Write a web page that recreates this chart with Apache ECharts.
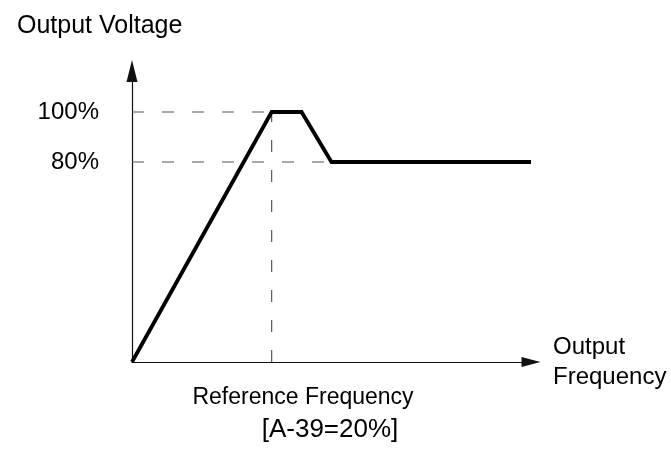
<!DOCTYPE html>
<html>
<head>
<meta charset="utf-8">
<script src="https://cdn.jsdelivr.net/npm/echarts@6/dist/echarts.min.js"></script>
<style>
  html, body { margin: 0; padding: 0; background: #fff; }
  #chart { width: 671px; height: 461px; }
</style>
</head>
<body>
<div id="chart"></div>
<script>
// V/f curve: output voltage (%) against output frequency (relative units)
const freq = [0, 14, 17, 20, 40];
const volt = [0, 100, 100, 80, 80];
const voltTicks = [80, 100];
const refFreq = freq[1];      // reference frequency (start of 100% plateau)
const dropEnd = freq[3];      // end of the drop to 80%

const curve = freq.map((f, i) => [f, volt[i]]);

// dashed guide lines
const guideStyle = { color: '#555', width: 1.2, type: [12, 18] };
const guides = [
  [[0, voltTicks[1]], [refFreq, voltTicks[1]]],
  [[0, voltTicks[0]], [dropEnd, voltTicks[0]]],
  [[refFreq, 0], [refFreq, voltTicks[1]]]
];

const FONT = '"Liberation Sans", Arial, sans-serif';

const chart = echarts.init(document.getElementById('chart'), null, { renderer: 'canvas' });
chart.setOption({
  animation: false,
  backgroundColor: '#fff',
  title: [
    { text: 'Output Voltage', left: 12, top: 9,
      textStyle: { fontFamily: FONT, fontSize: 25, fontWeight: 'normal', color: '#000' } },
    { text: 'Reference Frequency', left: 298, top: 381, textAlign: 'center',
      textStyle: { fontFamily: FONT, fontSize: 23, fontWeight: 'normal', color: '#000' } },
    { text: '[A-39=20%]', left: 325, top: 412, textAlign: 'center',
      textStyle: { fontFamily: FONT, fontSize: 26, fontWeight: 'normal', color: '#000' } }
  ],
  grid: { left: 132, right: 140, top: 71, bottom: 99 },
  xAxis: {
    type: 'value', min: 0, max: 40,
    name: 'Output\nFrequency', nameLocation: 'end', nameGap: 22,
    nameTextStyle: { fontFamily: FONT, fontSize: 24, color: '#000', align: 'left',
      verticalAlign: 'middle', lineHeight: 30, padding: [0, 0, 12, 0] },
    axisLine: { show: true, symbol: ['none', 'triangle'], symbolSize: [10, 19],
      lineStyle: { color: '#111', width: 1.2 } },
    axisTick: { show: false }, axisLabel: { show: false }, splitLine: { show: false }
  },
  yAxis: {
    type: 'value', min: 0, max: 116.4,
    axisLine: { show: true, symbol: ['none', 'triangle'], symbolSize: [11, 22],
      lineStyle: { color: '#111', width: 1.2 } },
    axisTick: { show: false }, splitLine: { show: false },
    axisLabel: { show: true, customValues: voltTicks, margin: 33,
      formatter: v => v + '%',
      fontFamily: FONT, fontSize: 24, color: '#000' }
  },
  series: [
    ...guides.map(g => ({
      type: 'line', data: g, symbol: 'none', silent: true,
      lineStyle: guideStyle, z: 1
    })),
    {
      type: 'line', data: curve, symbol: 'none', silent: true,
      lineStyle: { color: '#000', width: 3.8, join: 'miter' }, z: 3
    }
  ]
});
</script>
</body>
</html>
